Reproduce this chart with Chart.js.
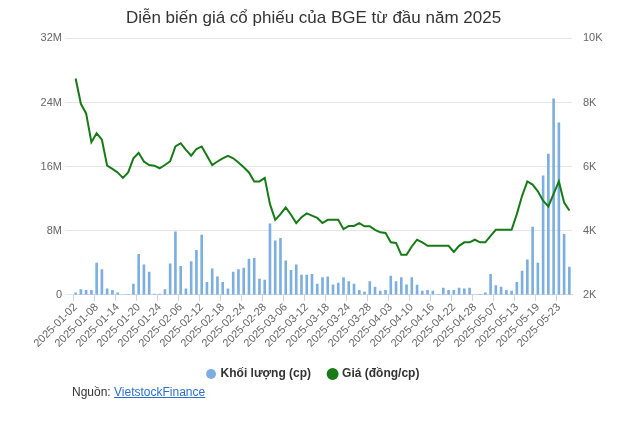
<!DOCTYPE html>
<html><head><meta charset="utf-8">
<script src="https://cdn.jsdelivr.net/npm/chart.js@4/dist/chart.umd.min.js"></script>
<style>
body{margin:0;background:#fff;font-family:Arial,"Liberation Sans",sans-serif}
#wrap{position:relative;width:627px;height:390px}
#src{position:absolute;left:72px;top:385px;font-size:12px;color:#333}
#src a{color:#2a6fd0;text-decoration:underline}
</style></head><body>
<div id="wrap"><canvas id="c"></canvas></div>
<div id="src">Nguồn: <a href="#">VietstockFinance</a></div>
<script>
const DATES = [
 '2025-01-02','2025-01-03','2025-01-06','2025-01-07','2025-01-08','2025-01-09','2025-01-10','2025-01-13','2025-01-14','2025-01-15','2025-01-16','2025-01-17','2025-01-20','2025-01-21','2025-01-22','2025-01-23','2025-01-24',
 '2025-02-03','2025-02-04','2025-02-05','2025-02-06','2025-02-07','2025-02-10','2025-02-11','2025-02-12','2025-02-13','2025-02-14','2025-02-17','2025-02-18','2025-02-19','2025-02-20','2025-02-21','2025-02-24','2025-02-25','2025-02-26','2025-02-27','2025-02-28',
 '2025-03-03','2025-03-04','2025-03-05','2025-03-06','2025-03-07','2025-03-10','2025-03-11','2025-03-12','2025-03-13','2025-03-14','2025-03-17','2025-03-18','2025-03-19','2025-03-20','2025-03-21','2025-03-24','2025-03-25','2025-03-26','2025-03-27','2025-03-28','2025-03-31',
 '2025-04-01','2025-04-02','2025-04-03','2025-04-04','2025-04-08','2025-04-09','2025-04-10','2025-04-11','2025-04-14','2025-04-15','2025-04-16','2025-04-17','2025-04-18','2025-04-21','2025-04-22','2025-04-23','2025-04-24','2025-04-25','2025-04-28','2025-04-29',
 '2025-05-05','2025-05-06','2025-05-07','2025-05-08','2025-05-09','2025-05-12','2025-05-13','2025-05-14','2025-05-15','2025-05-16','2025-05-19','2025-05-20','2025-05-21','2025-05-22','2025-05-23','2025-05-26','2025-05-27'
];
// volume, millions of shares
const VOLUME = [
 0.3,0.7,0.6,0.6,4.0,3.2,0.8,0.6,0.3,0.05,0.1,1.4,5.1,3.8,2.9,0.15,0.15,
 0.7,3.9,7.9,3.6,0.8,4.2,5.6,7.5,1.6,3.3,2.3,1.6,0.8,2.9,3.2,3.4,4.5,4.6,2.0,1.9,
 8.9,6.8,7.1,4.3,3.1,3.8,2.5,2.5,2.6,1.4,2.2,2.3,1.3,1.5,2.2,1.7,1.4,0.6,0.4,1.7,1.0,
 0.5,0.6,2.4,1.7,2.2,1.3,2.2,1.25,0.5,0.6,0.5,0.1,0.9,0.6,0.6,0.9,0.8,0.9,0.05,0.1,
 0.3,2.6,1.2,1.0,0.6,0.5,1.6,3.0,4.4,8.5,4.0,14.9,17.6,24.5,21.5,7.6,3.5
];
// price, thousand VND per share
const PRICE = [
 8.75,7.96,7.66,6.76,7.04,6.84,6.03,5.93,5.82,5.65,5.82,6.26,6.43,6.16,6.05,6.03,5.95,
 6.05,6.17,6.63,6.73,6.52,6.34,6.55,6.63,6.34,6.05,6.16,6.26,6.34,6.26,6.13,5.98,5.82,5.54,5.54,5.65,
 4.83,4.34,4.52,4.73,4.5,4.24,4.42,4.54,4.47,4.40,4.24,4.34,4.34,4.34,4.05,4.15,4.15,4.24,4.14,4.14,4.03,
 3.95,3.93,3.64,3.62,3.25,3.25,3.51,3.72,3.64,3.53,3.53,3.53,3.53,3.53,3.34,3.53,3.64,3.64,3.72,3.64,
 3.64,3.84,4.03,4.03,4.03,4.03,4.52,5.09,5.54,5.44,5.23,4.94,4.76,5.15,5.54,4.88,4.63
];
const GRAY = '#666';
new Chart(document.getElementById('c'), {
  data: {
    labels: DATES,
    datasets: [
      { type: 'line', label: 'Giá (đồng/cp)', data: PRICE, yAxisID: 'y1', borderColor: '#177a17', backgroundColor: '#177a17',
        borderWidth: 2, pointRadius: 0, tension: 0, order: 0 },
      { type: 'bar', label: 'Khối lượng (cp)', data: VOLUME, yAxisID: 'y', backgroundColor: '#7caee0',
        barPercentage: 0.5, categoryPercentage: 1, order: 1 },
    ],
  },
  options: {
    responsive: true, maintainAspectRatio: false, animation: false,
    layout: { padding: { top: 6, bottom: 0 } },
    plugins: {
      title: { display: true, text: 'Diễn biến giá cổ phiếu của BGE từ đầu năm 2025', color: '#333',
        font: { size: 17, weight: 'normal', family: 'Arial' }, padding: { top: 2, bottom: 10 } },
      legend: { position: 'bottom', reverse: true,
        labels: { usePointStyle: true, pointStyle: 'circle', boxWidth: 7, boxHeight: 7, color: '#333',
          font: { size: 12, weight: 'bold', family: 'Arial' }, padding: 18 } },
      tooltip: { enabled: false },
    },
    scales: {
      x: {
        grid: { drawOnChartArea: false, tickLength: 6, color: (c) => c.index % 4 === 0 ? '#ccd6eb' : 'rgba(0,0,0,0)' },
        border: { color: '#ccd6eb' },
        ticks: { autoSkip: false, maxRotation: 45, minRotation: 45, color: GRAY, padding: 0, font: { size: 11, family: 'Arial' },
          callback: function(v, i) { return i % 4 === 0 ? this.getLabelForValue(v) : ''; } },
      },
      y: {
        position: 'left', min: 0, max: 32, afterFit: (s) => { s.width = 73; },
        ticks: { stepSize: 8, color: GRAY, font: { size: 11, family: 'Arial' }, callback: (v) => v === 0 ? '0' : v + 'M' },
        grid: { color: '#e6e6e6' }, border: { display: false },
      },
      y1: {
        position: 'right', min: 2, max: 10, afterFit: (s) => { s.width = 55; },
        ticks: { stepSize: 2, color: GRAY, font: { size: 11, family: 'Arial' }, callback: (v) => v + 'K' },
        grid: { display: false }, border: { display: false },
      },
    },
  },
});
</script>
</body></html>
